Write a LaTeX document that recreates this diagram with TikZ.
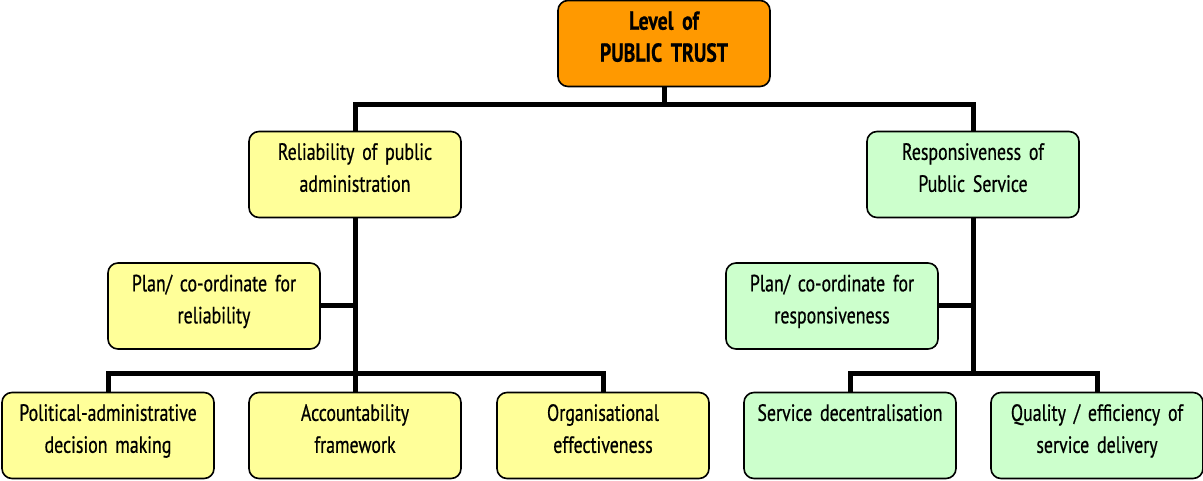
\documentclass[tikz,border=0pt]{standalone}
\usepackage{fontspec}
\setmainfont{PT Sans}[FakeStretch=0.76,WordSpace=0.6,FakeBold=0.6]
\usepackage{xcolor}
\usetikzlibrary{calc}
\definecolor{trustorange}{HTML}{FF9900}
\definecolor{relyellow}{HTML}{FFFF99}
\definecolor{respgreen}{HTML}{CCFFCC}
\tikzset{
	box/.style={draw, line width=1.6pt, rounded corners=10pt, minimum width=212pt,
		minimum height=86pt, text width=208pt, align=center, inner sep=1pt,
		text depth=46pt, font=\fontsize{23.5}{32}\selectfont},
	link/.style={line width=5pt}
}
\begin{document}
\begin{tikzpicture}[x=1pt,y=-1pt]
		\useasboundingbox (0,0) rectangle (1203,481);
		% top
		\node [box,fill=trustorange,font=\fontsize{26}{32}\selectfont\bfseries] (trust) at (664,43.5) {Level of\\PUBLIC TRUST};
		% second level
		\node [box,fill=relyellow] (rel) at (355,174.5) {Reliability of public\\administration};
		\node [box,fill=respgreen] (resp) at (973,174.5) {Responsiveness of\\Public Service};
		% plan boxes
		\node [box,fill=relyellow] (planrel) at (214,306) {Plan/ co-ordinate for\\reliability};
		\node [box,fill=respgreen] (planresp) at (832,306) {Plan/ co-ordinate for\\responsiveness};
		% bottom row
		\node [box,fill=relyellow] (pol) at (108,435.5) {Political-administrative\\decision making};
		\node [box,fill=relyellow] (acc) at (355,435.5) {Accountability\\framework};
		\node [box,fill=relyellow] (org) at (603,435.5) {Organisational\\effectiveness};
		\node [box,fill=respgreen] (dec) at (850,435.5) {Service decentralisation\\\mbox{}};
		\node [box,fill=respgreen] (qual) at (1097,435.5) {Quality / efficiency of\\service delivery};
		% junctions
		\coordinate (topbar) at (664,105);
		\coordinate (relbar) at (355,373);
		\coordinate (respbar) at (973,373);
		\begin{scope}[link]
			\draw (trust.south) -- (topbar);
			\draw (rel.north) |- (topbar) -| (resp.north);
			\draw (rel.south) -- (relbar);
			\draw (planrel.east) -- (planrel.east -| rel.south);
			\draw (pol.north) |- (relbar) -| (org.north);
			\draw (acc.north) -- (relbar);
			\draw (resp.south) -- (respbar);
			\draw (planresp.east) -- (planresp.east -| resp.south);
			\draw (dec.north) |- (respbar) -| (qual.north);
		\end{scope}
	\end{tikzpicture}
\end{document}
